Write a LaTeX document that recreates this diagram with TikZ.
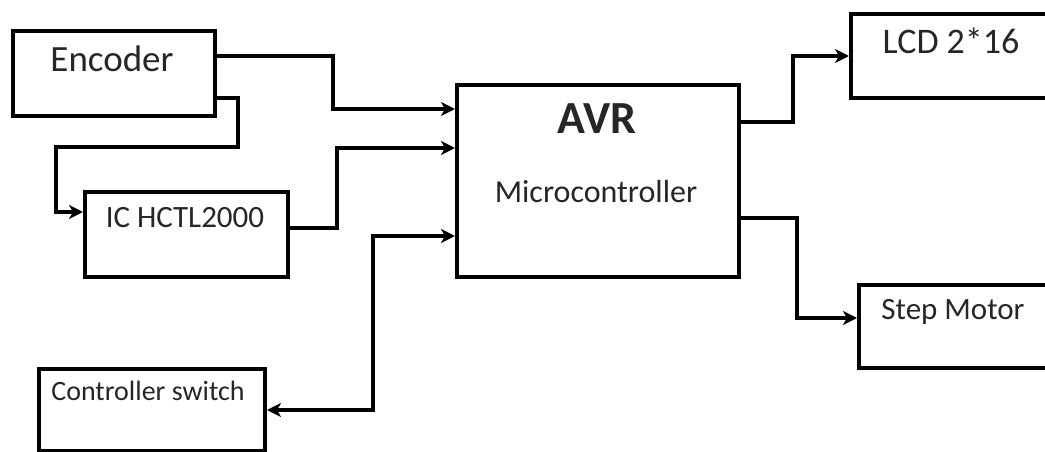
\documentclass[tikz,border=0pt]{standalone}
\usepackage{fontspec}
\setmainfont{Carlito}
\usetikzlibrary{arrows.meta}
\begin{document}
\begin{tikzpicture}[x=1pt,y=-1pt,
  blk/.style={draw=black,line width=4pt,rectangle,inner sep=0pt,anchor=north west},
  lbl/.style={anchor=base,inner sep=0pt,text=black!85},
  conn/.style={line width=4pt,draw=black},
  arr/.style={conn,-{Stealth[length=14pt,width=14pt,inset=4pt]}},
  darr/.style={conn,{Stealth[length=14pt,width=14pt,inset=4pt]}-{Stealth[length=14pt,width=14pt,inset=4pt]}}]
\useasboundingbox (0,0) rectangle (1045,452);
\fill[white] (0,0) rectangle (1045,452);
% boxes
\node[blk,minimum width=202pt,minimum height=85pt] (enc) at (11,29) {};
\node[blk,minimum width=203pt,minimum height=85pt] (ic) at (83,190) {};
\node[blk,minimum width=282pt,minimum height=192pt] (avr) at (455,83) {};
\node[blk,minimum width=210pt,minimum height=84pt] (lcd) at (849,12) {};
\node[blk,minimum width=200pt,minimum height=83pt] (step) at (857,283) {};
\node[blk,minimum width=226pt,minimum height=82pt] (cs) at (37,367) {};
% labels
\node[lbl,font=\fontsize{37}{40}\selectfont] (tenc) at (112,72) {Encoder};
\node[lbl,font=\fontsize{31}{34}\selectfont] (tic) at (185,227) {IC HCTL2000};
\node[lbl,font=\bfseries\fontsize{46}{50}\selectfont] (tavr) at (597,133) {AVR};
\node[lbl,font=\fontsize{32}{35}\selectfont] (tmc) at (596,202) {Microcontroller};
\node[lbl,font=\fontsize{36}{39}\selectfont] (tlcd) at (951,54) {LCD 2*16};
\node[lbl,font=\fontsize{31}{34}\selectfont] (tstep) at (953,319) {Step Motor};
\node[lbl,font=\fontsize{28}{31}\selectfont] (tcs) at (148,400) {Controller switch};
% connectors
\draw[arr] (enc.east |- 0,56) -- (333,56) -- (333,109) -- (avr.west |- 0,109);
\draw[arr] (enc.east |- 0,98) -- (238,98) -- (238,147) -- (56,147) -- (56,212) -- (ic.west |- 0,212);
\draw[arr] (ic.east |- 0,228) -- (337,228) -- (337,148) -- (avr.west |- 0,148);
\draw[darr] (cs.east |- 0,410) -- (373,410) -- (373,236) -- (avr.west |- 0,236);
\draw[arr] (avr.east |- 0,122) -- (793,122) -- (793,56) -- (lcd.west |- 0,56);
\draw[arr] (avr.east |- 0,218) -- (797,218) -- (797,318) -- (step.west |- 0,318);
\end{tikzpicture}
\end{document}
